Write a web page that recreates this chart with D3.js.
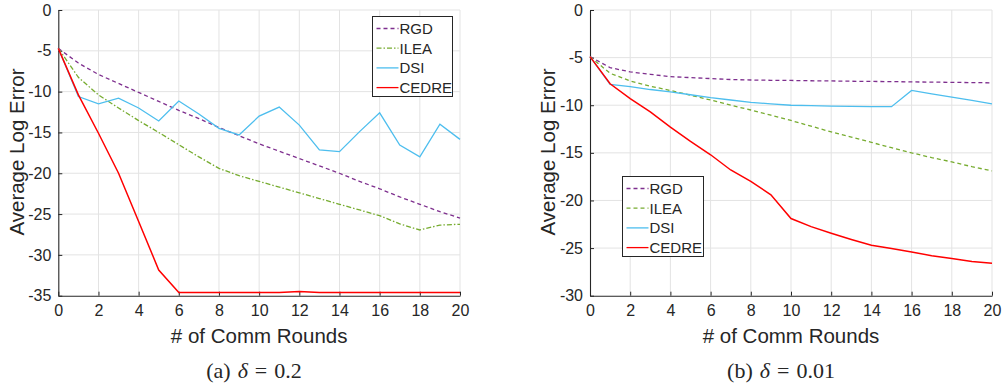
<!DOCTYPE html>
<html>
<head>
<meta charset="utf-8">
<script src="https://cdn.jsdelivr.net/npm/d3@7"></script>
<style>
  html, body { margin: 0; padding: 0; background: #fff; }
  svg { display: block; }
  text { font-family: "Liberation Sans", Arial, Helvetica, sans-serif; fill: #262626; }
</style>
</head>
<body>
<svg id="chart" width="1002" height="387"></svg>
<script>
// ---------- data ----------
const rounds = d3.range(0, 21);
const xTicks = [0, 2, 4, 6, 8, 10, 12, 14, 16, 18, 20];
const yTicksA = [0, -5, -10, -15, -20, -25, -30, -35];
const yTicksB = [0, -5, -10, -15, -20, -25, -30];
const seriesNames = ["RGD", "ILEA", "DSI", "CEDRE"];

// (a) delta = 0.2
const rgdA   = [-4.7, -6.5, -7.9, -9.0, -10.1, -11.2, -12.3, -13.3, -14.4, -15.4, -16.4, -17.3, -18.2, -19.1, -20.0, -21.0, -21.9, -22.9, -23.8, -24.7, -25.5];
const ileaA  = [-4.7, -8.25, -10.4, -12.0, -13.55, -15.0, -16.5, -18.0, -19.4, -20.3, -21.0, -21.7, -22.4, -23.1, -23.8, -24.5, -25.2, -26.2, -26.95, -26.35, -26.25];
const dsiA   = [-4.7, -10.6, -11.5, -10.8, -12.0, -13.6, -11.15, -12.75, -14.5, -15.3, -13.0, -11.9, -14.1, -17.15, -17.35, -14.9, -12.6, -16.55, -18.0, -14.0, -15.85];
const cedreA = [-4.7, -10.4, -15.1, -20.0, -25.9, -31.85, -34.6, -34.6, -34.6, -34.6, -34.6, -34.6, -34.5, -34.6, -34.6, -34.6, -34.6, -34.6, -34.6, -34.6, -34.6];

// (b) delta = 0.01
const rgdB   = [-4.9, -6.05, -6.5, -6.75, -7.0, -7.1, -7.2, -7.3, -7.35, -7.38, -7.4, -7.43, -7.45, -7.48, -7.5, -7.52, -7.55, -7.57, -7.6, -7.62, -7.65];
const ileaB  = [-4.9, -6.65, -7.45, -8.0, -8.45, -8.95, -9.45, -10.0, -10.5, -11.05, -11.6, -12.2, -12.8, -13.35, -13.9, -14.45, -15.0, -15.5, -15.95, -16.45, -16.9];
const dsiB   = [-4.9, -7.8, -8.05, -8.35, -8.6, -8.9, -9.2, -9.45, -9.7, -9.85, -10.0, -10.05, -10.1, -10.12, -10.15, -10.15, -8.45, -8.8, -9.15, -9.5, -9.85];
const cedreB = [-4.9, -7.75, -9.3, -10.7, -12.3, -13.8, -15.2, -16.8, -18.0, -19.4, -21.9, -22.75, -23.45, -24.1, -24.7, -25.05, -25.4, -25.8, -26.1, -26.4, -26.6];

const captionA = ["(a)", "δ", "=", "0.2"];
const captionB = ["(b)", "δ", "=", "0.01"];

// ---------- styles ----------
const colors = { RGD: "#7E2F8E", ILEA: "#77AC30", DSI: "#4DBEEE", CEDRE: "#FF0000" };
const dashA = { RGD: "4,3", ILEA: "5,2,1.5,2", DSI: null, CEDRE: null };
const dashB = { RGD: "4,3", ILEA: "4,3", DSI: null, CEDRE: null };

const svg = d3.select("#chart");

function panel(opt) {
  const x = d3.scaleLinear().domain([0, 20]).range([opt.x0, opt.x1]);
  const y = d3.scaleLinear().domain([0, opt.ymin]).range([10, 295.7]);
  const g = svg.append("g");

  // grid
  g.append("g").selectAll("line").data(xTicks.slice(1)).join("line")
    .attr("x1", d => x(d)).attr("x2", d => x(d)).attr("y1", y.range()[0]).attr("y2", y.range()[1])
    .attr("stroke", "#e3e3e3").attr("stroke-width", 1);
  g.append("g").selectAll("line").data(opt.yTicks.slice(0, -1)).join("line")
    .attr("x1", x.range()[0]).attr("x2", x.range()[1]).attr("y1", d => y(d)).attr("y2", d => y(d))
    .attr("stroke", "#e3e3e3").attr("stroke-width", 1);

  // axes
  const ax = g.append("g").attr("transform", `translate(0,${y.range()[1]})`)
    .call(d3.axisBottom(x).tickValues(xTicks).tickSizeInner(-4).tickSizeOuter(0).tickPadding(9));
  const ay = g.append("g").attr("transform", `translate(${x.range()[0]},0)`)
    .call(d3.axisLeft(y).tickValues(opt.yTicks).tickSizeInner(-4).tickSizeOuter(0).tickPadding(7));
  [ax, ay].forEach(a => {
    a.select(".domain").attr("stroke", "#262626").attr("stroke-width", 1.1);
    a.selectAll(".tick line").attr("stroke", "#262626");
    a.selectAll(".tick text").attr("fill", "#262626")
      .style("font-family", '"Liberation Sans", Arial, sans-serif').style("font-size", "16px");
  });
  ay.selectAll(".tick text").text(d => d < 0 ? "-" + Math.abs(d) : d);

  // lines
  const line = d3.line().x((d, i) => x(rounds[i])).y(d => y(d));
  opt.series.forEach((vals, k) => {
    const name = seriesNames[k];
    g.append("path").datum(vals)
      .attr("d", line).attr("fill", "none")
      .attr("stroke", colors[name]).attr("stroke-width", name === "CEDRE" ? 1.5 : 1.3)
      .attr("stroke-dasharray", opt.dash[name]);
  });

  // axis labels
  g.append("text").attr("x", (x.range()[0] + x.range()[1]) / 2).attr("y", 343)
    .attr("text-anchor", "middle").style("font-size", "20.5px").text("# of Comm Rounds");
  g.append("text").attr("transform", `translate(${opt.ylabX},152) rotate(-90)`)
    .attr("text-anchor", "middle").style("font-size", "20.5px").text("Average Log Error");

  // legend
  const L = opt.legend;
  g.append("rect").attr("x", L.x).attr("y", L.y).attr("width", L.w).attr("height", L.h)
    .attr("fill", "#fff").attr("stroke", "#262626").attr("stroke-width", 1);
  seriesNames.forEach((name, k) => {
    const cy = L.y + 12 + k * 19.7;
    g.append("line").attr("x1", L.x + 4).attr("x2", L.x + 26).attr("y1", cy).attr("y2", cy)
      .attr("stroke", colors[name]).attr("stroke-width", 1.3)
      .attr("stroke-dasharray", opt.dash[name]);
    g.append("text").attr("x", L.x + 27).attr("y", cy + 5.5).style("font-size", "15px").text(name);
  });

  // caption
  const cap = g.append("text").attr("x", opt.capX).attr("y", 378).attr("text-anchor", "middle")
    .style("font-family", '"Liberation Serif", "Times New Roman", serif').style("font-size", "22px")
    .attr("fill", "#000");
  cap.append("tspan").text(opt.caption[0]);
  cap.append("tspan").attr("dx", 7).style("font-style", "italic").text(opt.caption[1]);
  cap.append("tspan").attr("dx", 7).text(opt.caption[2]);
  cap.append("tspan").attr("dx", 7).text(opt.caption[3]);
}

panel({ x0: 58.3, x1: 460, ymin: -35, yTicks: yTicksA, series: [rgdA, ileaA, dsiA, cedreA],
        dash: dashA, ylabX: 24, legend: { x: 372.5, y: 16.5, w: 80, h: 80 }, capX: 254, caption: captionA });
panel({ x0: 590, x1: 992, ymin: -30, yTicks: yTicksB, series: [rgdB, ileaB, dsiB, cedreB],
        dash: dashB, ylabX: 555, legend: { x: 622.5, y: 176.5, w: 81, h: 80 }, capX: 781, caption: captionB });
</script>
</body>
</html>
